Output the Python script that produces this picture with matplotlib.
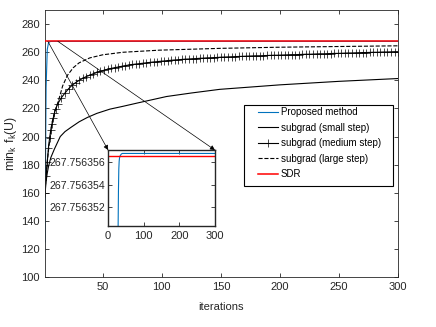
import numpy as np
import matplotlib
matplotlib.use("Agg")
import matplotlib.pyplot as plt
from matplotlib.patches import Rectangle

plt.rcParams['font.family'] = ['Liberation Sans', 'DejaVu Sans']
plt.rcParams['font.size'] = 8
plt.rcParams['mathtext.default'] = 'regular'

# ---- data ----
# proposed method (fast convergence, values near SDR bound)
prop_it = [1, 2, 3, 4, 5, 6, 8, 10, 15, 20, 25, 28, 29, 30, 31, 32, 34, 37, 40, 50, 100, 200, 300]
prop_val = [125, 235, 262, 266.5, 267.5, 267.7, 267.75, 267.755, 267.7562, 267.75633,
            267.75634, 267.7563500, 267.7563535, 267.7563554, 267.7563561, 267.7563564,
            267.7563566, 267.75635675, 267.7563568, 267.7563568, 267.7563568,
            267.7563568, 267.7563568]

# subgradient, small step
small_it = [1, 2, 3, 4, 6, 9, 14, 18, 23, 30, 37, 45, 56, 67, 80, 104, 125, 149, 200, 250, 300]
small_val = [158, 168, 174, 178.5, 185, 191, 200, 203.5, 206.5, 210.5, 213.6, 216.5, 219.5,
             221.5, 224, 228.5, 231, 233.6, 236.8, 239.3, 241.3]

# subgradient, medium step (iterations 1..10, then every 3rd)
med_it = list(range(1, 11)) + list(range(12, 301, 3))
med_val = [160, 172, 182, 192, 199, 205, 209, 213, 216.5, 219.5,
           223.5, 227.7, 231, 234, 236.5, 238.4, 240, 241.4, 242.7, 243.7,
           244.7, 245.6, 246.4, 247.2, 247.9, 248.5, 249, 249.5, 250, 250.5,
           250.9, 251.3, 251.6, 251.9, 252.2, 252.5, 252.8, 253.1, 253.3, 253.6,
           253.8, 254.1, 254.3, 254.5, 254.7, 254.9, 255.1, 255.2, 255.4, 255.5,
           255.7, 255.8, 256, 256.1, 256.2, 256.3, 256.5, 256.6, 256.7, 256.8,
           256.9, 257, 257.1, 257.2, 257.3, 257.4, 257.5, 257.5, 257.6, 257.7,
           257.8, 257.9, 257.9, 258, 258.1, 258.2, 258.3, 258.3, 258.4, 258.5,
           258.6, 258.6, 258.7, 258.8, 258.9, 258.9, 259, 259.1, 259.2, 259.2,
           259.3, 259.4, 259.5, 259.5, 259.6, 259.7, 259.8, 259.8, 259.9, 260,
           260, 260.1, 260.2, 260.2, 260.3, 260.4, 260.4]

# subgradient, large step
large_it = [1, 2, 3, 4, 5, 7, 10, 13, 16, 20, 25, 30, 39, 50, 67, 98, 150, 200, 250, 300]
large_val = [160, 172, 182, 190, 197, 210, 219, 227, 236, 243.5, 249, 252.5, 256, 258.2, 260,
             261.5, 262.8, 263.6, 264.1, 264.6]

# SDR bound
sdr_it = [1, 300]
sdr_val = [267.7563566, 267.7563566]

blue = '#0072BD'
txt = '#262626'

fig = plt.figure(figsize=(4.36, 3.27), dpi=100)
ax = fig.add_axes([0.103, 0.153, 0.810, 0.816])

ax.plot(prop_it, prop_val, color=blue, lw=0.8, label='Proposed method')
ax.plot(small_it, small_val, color='k', lw=0.8, label='subgrad (small step)')
ax.plot(med_it, med_val, color='k', lw=0.8, marker='+', ms=6, mew=0.5,
        label='subgrad (medium step)')
ax.plot(large_it, large_val, color='k', lw=0.8, ls='--', label='subgrad (large step)')
ax.plot(sdr_it, sdr_val, color='r', lw=1.1, label='SDR', zorder=3)

ax.set_xlim(1, 300)
ax.set_ylim(100, 290)
ax.set_xticks([50, 100, 150, 200, 250, 300])
ax.set_yticks(np.arange(100, 281, 20))
ax.tick_params(direction='in', top=True, right=True, length=3, width=0.6,
               colors=txt, labelsize=8)
for s in ax.spines.values():
    s.set_linewidth(0.6)
    s.set_color(txt)
ax.set_xlabel('iterations', color=txt, fontsize=8, labelpad=7)
ax.set_ylabel(r'$\mathregular{min_k\ f_k(U)}$', color=txt, fontsize=8.8, labelpad=2)

# legend box (wide side padding like the original)
box = Rectangle((244 / 436, 1 - 186 / 327), 149 / 436, 81 / 327, transform=fig.transFigure,
                facecolor='white', edgecolor='k', lw=0.8, zorder=4)
ax.add_patch(box)
box.set_clip_on(False)
leg = ax.legend(loc='upper left', bbox_to_anchor=(258 / 436, 1 - 107 / 327),
                bbox_transform=fig.transFigure, borderaxespad=0, frameon=False,
                fontsize=7, handlelength=2.06, handletextpad=0.3, labelspacing=0.57,
                borderpad=0)
leg.set_zorder(5)

# zoomed inset
axins = fig.add_axes([0.248, 0.309, 0.245, 0.232])
axins.plot(prop_it, prop_val, color=blue, lw=0.8)
axins.plot(sdr_it, sdr_val, color='r', lw=1.0)
axins.set_xlim(0, 300)
axins.set_ylim(267.7563503, 267.7563571)
axins.set_xticks([0, 100, 200, 300])
axins.set_yticks([267.756352, 267.756354, 267.756356])
axins.set_yticklabels(['267.756352', '267.756354', '267.756356'])
axins.tick_params(direction='in', top=True, right=True, length=3, width=0.6,
                  colors=txt, labelsize=8)
axins.tick_params(axis='y', labelsize=7.6, pad=2)
for s in axins.spines.values():
    s.set_linewidth(1.0)
    s.set_color(txt)

for x0, corner in [(3.5, (0, 1)), (12, (1, 1))]:
    ax.annotate('', xy=corner, xycoords=axins.transAxes,
                xytext=(x0, 267.76), textcoords='data',
                arrowprops=dict(arrowstyle='-|>', color='k', lw=0.5,
                                mutation_scale=7, shrinkA=0, shrinkB=0))

fig.savefig('out.png', dpi=100)
